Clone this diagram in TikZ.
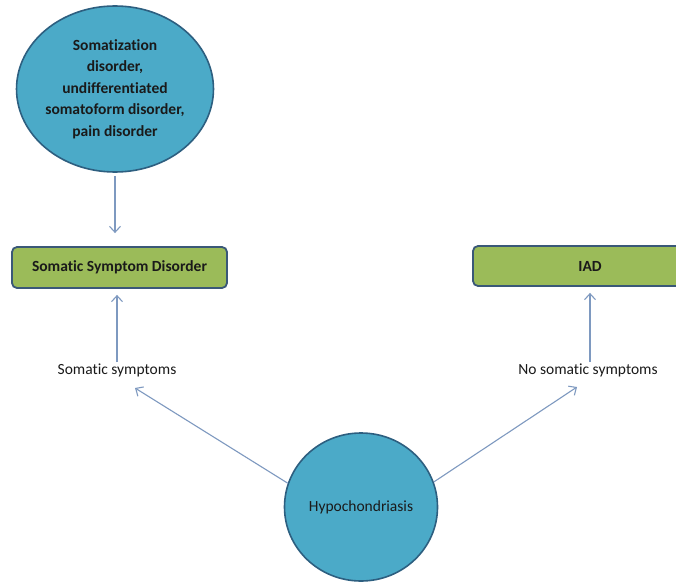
\documentclass[tikz,border=0pt]{standalone}
\usepackage{fontspec}
\setmainfont{Carlito}[Ligatures=NoCommon]
\usetikzlibrary{shapes.geometric,arrows.meta}
\definecolor{circfill}{HTML}{4BAAC8}
\definecolor{circline}{HTML}{2D5F80}
\definecolor{boxfill}{HTML}{9BBB59}
\definecolor{boxline}{HTML}{3A5878}
\definecolor{arrcol}{HTML}{7E99C0}
\definecolor{txt}{HTML}{1A1A1A}
\tikzset{
  bubble/.style={ellipse, draw=circline, line width=1.6pt, fill=circfill, align=center, text=txt, inner sep=0pt},
  greenbox/.style={rectangle, rounded corners=5pt, draw=boxline, line width=1.8pt, fill=boxfill, text=txt, font=\fontsize{15.5}{18}\selectfont\bfseries, inner sep=0pt},
  lbl/.style={text=txt, font=\fontsize{15.5}{18}\selectfont, inner sep=1pt},
  conn/.style={draw=arrcol, line width=1.1pt, -{Straight Barb[length=6pt,width=11pt]}}
}
\begin{document}
\begin{tikzpicture}[x=1pt,y=-1pt]
\useasboundingbox (0,0) rectangle (676,583);
\clip (0,0) rectangle (676,583);
\fill[white] (0,0) rectangle (676,583);
\node[bubble, minimum width=176pt, minimum height=166pt, font=\fontsize{15.5}{21.5}\selectfont\bfseries] (top) at (115,89)
  {Somatization\\disorder,\\undifferentiated\\somatoform disorder,\\pain disorder};
\node[greenbox, minimum width=215pt, minimum height=41pt] (ssd) at (119.5,267.5) {Somatic Symptom Disorder};
\node[greenbox, minimum width=234pt, minimum height=40pt] (iad) at (590,266) {\raisebox{-3pt}{IAD}};
\node[lbl] (ssym) at (117,370) {Somatic symptoms};
\node[lbl] (nsym) at (588,370) {No somatic symptoms};
\node[bubble, minimum width=153pt, minimum height=148pt, font=\fontsize{15.5}{18}\selectfont] (hypo) at (361,507) {Hypochondriasis};
\coordinate (sl) at (135,388);
\coordinate (sr) at (577,387);
\draw[conn, shorten <=3pt, shorten >=13pt] (top) -- (top |- ssd.north);
\draw[conn, shorten >=6pt] (ssym) -- (ssd.south -| ssym);
\draw[conn, shorten >=6pt] (nsym.north -| iad) -- (iad.south);
\draw[conn] (hypo.162) -- (sl);
\draw[conn] (hypo.19) -- (sr);
\end{tikzpicture}
\end{document}
